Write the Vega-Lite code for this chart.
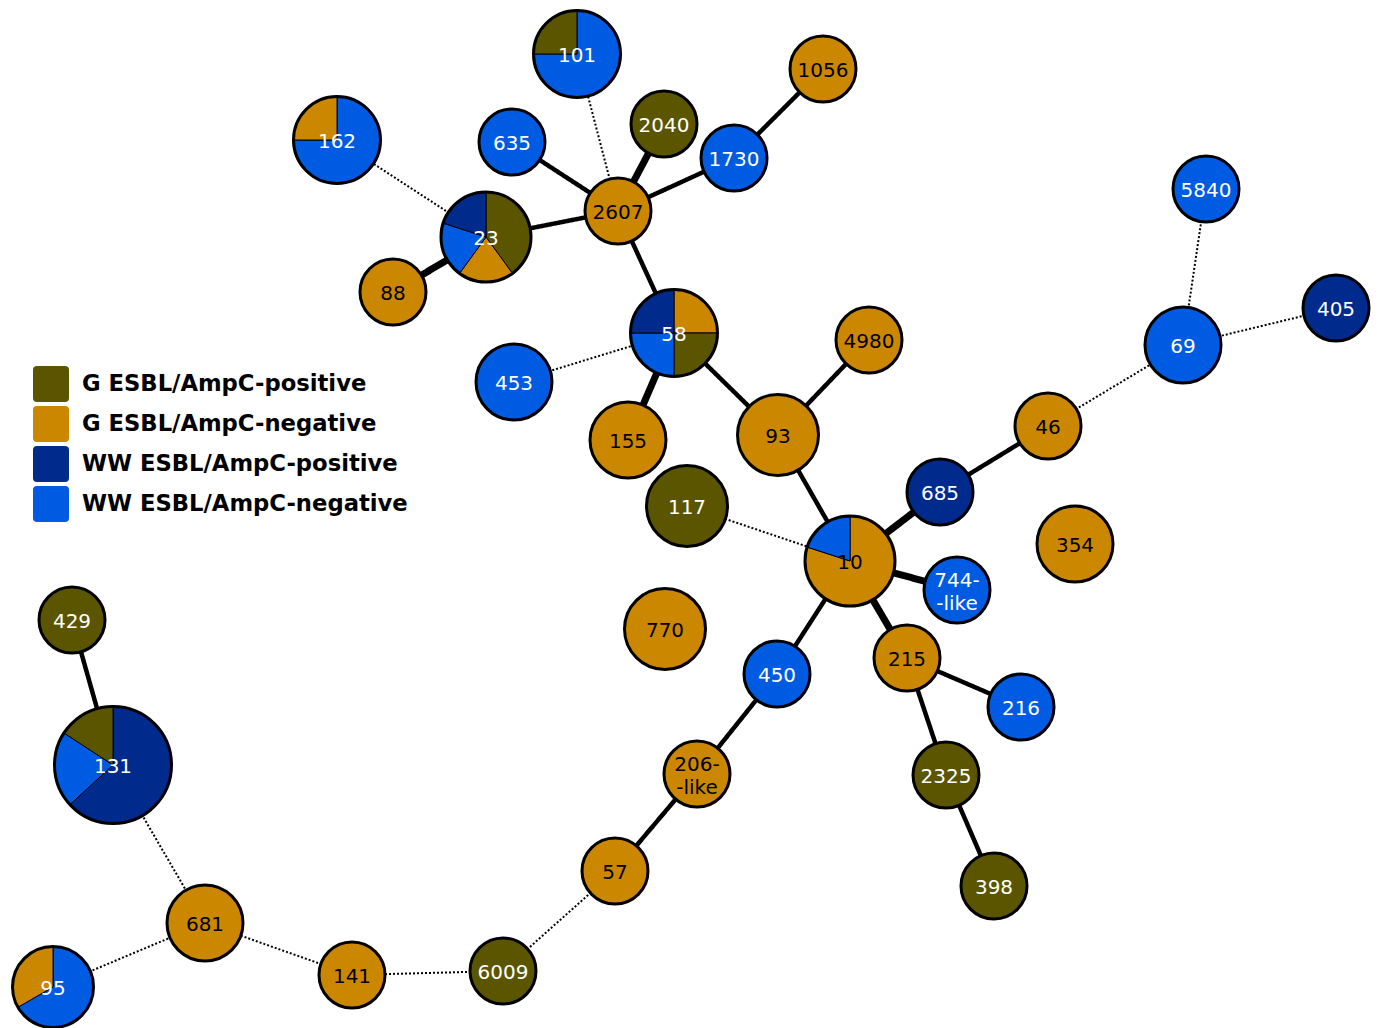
{
  "$schema": "https://vega.github.io/schema/vega-lite/v6.json",
  "width": 1378,
  "height": 1028,
  "autosize": {"type": "none"},
  "padding": 0,
  "background": "white",
  "config": {"view": {"stroke": null}},
  "datasets": {
    "nodes": [
      {"id": "101", "label": "101", "x": 577, "y": 54, "n": 4, "main": "WW ESBL/AmpC-negative"},
      {"id": "1056", "label": "1056", "x": 823, "y": 69, "n": 1, "main": "G ESBL/AmpC-negative"},
      {"id": "2040", "label": "2040", "x": 664, "y": 124, "n": 1, "main": "G ESBL/AmpC-positive"},
      {"id": "635", "label": "635", "x": 512, "y": 142, "n": 1, "main": "WW ESBL/AmpC-negative"},
      {"id": "1730", "label": "1730", "x": 734, "y": 158, "n": 1, "main": "WW ESBL/AmpC-negative"},
      {"id": "162", "label": "162", "x": 337, "y": 140, "n": 4, "main": "WW ESBL/AmpC-negative"},
      {"id": "2607", "label": "2607", "x": 618, "y": 211, "n": 1, "main": "G ESBL/AmpC-negative"},
      {"id": "5840", "label": "5840", "x": 1206, "y": 189, "n": 1, "main": "WW ESBL/AmpC-negative"},
      {"id": "23", "label": "23", "x": 486, "y": 237, "n": 5, "main": "G ESBL/AmpC-positive"},
      {"id": "88", "label": "88", "x": 393, "y": 292, "n": 1, "main": "G ESBL/AmpC-negative"},
      {"id": "58", "label": "58", "x": 674, "y": 333, "n": 4, "main": "G ESBL/AmpC-positive"},
      {"id": "4980", "label": "4980", "x": 869, "y": 340, "n": 1, "main": "G ESBL/AmpC-negative"},
      {"id": "405", "label": "405", "x": 1336, "y": 308, "n": 1, "main": "WW ESBL/AmpC-positive"},
      {"id": "69", "label": "69", "x": 1183, "y": 345, "n": 2, "main": "WW ESBL/AmpC-negative"},
      {"id": "453", "label": "453", "x": 514, "y": 382, "n": 2, "main": "WW ESBL/AmpC-negative"},
      {"id": "155", "label": "155", "x": 628, "y": 440, "n": 2, "main": "G ESBL/AmpC-negative"},
      {"id": "93", "label": "93", "x": 778, "y": 435, "n": 3, "main": "G ESBL/AmpC-negative"},
      {"id": "46", "label": "46", "x": 1048, "y": 426, "n": 1, "main": "G ESBL/AmpC-negative"},
      {"id": "117", "label": "117", "x": 687, "y": 506, "n": 3, "main": "G ESBL/AmpC-positive"},
      {"id": "685", "label": "685", "x": 940, "y": 492, "n": 1, "main": "WW ESBL/AmpC-positive"},
      {"id": "10", "label": "10", "x": 850, "y": 561, "n": 5, "main": "G ESBL/AmpC-negative"},
      {"id": "354", "label": "354", "x": 1075, "y": 544, "n": 2, "main": "G ESBL/AmpC-negative"},
      {"id": "744-like", "label": "744-\n-like", "x": 957, "y": 590, "n": 1, "main": "WW ESBL/AmpC-negative"},
      {"id": "770", "label": "770", "x": 665, "y": 629, "n": 3, "main": "G ESBL/AmpC-negative"},
      {"id": "429", "label": "429", "x": 72, "y": 620, "n": 1, "main": "G ESBL/AmpC-positive"},
      {"id": "450", "label": "450", "x": 777, "y": 674, "n": 1, "main": "WW ESBL/AmpC-negative"},
      {"id": "215", "label": "215", "x": 907, "y": 658, "n": 1, "main": "G ESBL/AmpC-negative"},
      {"id": "216", "label": "216", "x": 1021, "y": 707, "n": 1, "main": "WW ESBL/AmpC-negative"},
      {"id": "131", "label": "131", "x": 113, "y": 765, "n": 19, "main": "WW ESBL/AmpC-positive"},
      {"id": "206-like", "label": "206-\n-like", "x": 697, "y": 774, "n": 1, "main": "G ESBL/AmpC-negative"},
      {"id": "2325", "label": "2325", "x": 946, "y": 775, "n": 1, "main": "G ESBL/AmpC-positive"},
      {"id": "398", "label": "398", "x": 994, "y": 886, "n": 1, "main": "G ESBL/AmpC-positive"},
      {"id": "57", "label": "57", "x": 615, "y": 871, "n": 1, "main": "G ESBL/AmpC-negative"},
      {"id": "681", "label": "681", "x": 205, "y": 923, "n": 2, "main": "G ESBL/AmpC-negative"},
      {"id": "141", "label": "141", "x": 352, "y": 975, "n": 1, "main": "G ESBL/AmpC-negative"},
      {"id": "6009", "label": "6009", "x": 503, "y": 971, "n": 1, "main": "G ESBL/AmpC-positive"},
      {"id": "95", "label": "95", "x": 53, "y": 987, "n": 3, "main": "WW ESBL/AmpC-negative"}
    ],
    "slices": [
      {"id": "101", "cat": "WW ESBL/AmpC-negative", "c": 3},
      {"id": "101", "cat": "G ESBL/AmpC-positive", "c": 1},
      {"id": "1056", "cat": "G ESBL/AmpC-negative", "c": 1},
      {"id": "2040", "cat": "G ESBL/AmpC-positive", "c": 1},
      {"id": "635", "cat": "WW ESBL/AmpC-negative", "c": 1},
      {"id": "1730", "cat": "WW ESBL/AmpC-negative", "c": 1},
      {"id": "162", "cat": "WW ESBL/AmpC-negative", "c": 3},
      {"id": "162", "cat": "G ESBL/AmpC-negative", "c": 1},
      {"id": "2607", "cat": "G ESBL/AmpC-negative", "c": 1},
      {"id": "5840", "cat": "WW ESBL/AmpC-negative", "c": 1},
      {"id": "23", "cat": "G ESBL/AmpC-positive", "c": 2},
      {"id": "23", "cat": "G ESBL/AmpC-negative", "c": 1},
      {"id": "23", "cat": "WW ESBL/AmpC-negative", "c": 1},
      {"id": "23", "cat": "WW ESBL/AmpC-positive", "c": 1},
      {"id": "88", "cat": "G ESBL/AmpC-negative", "c": 1},
      {"id": "58", "cat": "G ESBL/AmpC-negative", "c": 1},
      {"id": "58", "cat": "G ESBL/AmpC-positive", "c": 1},
      {"id": "58", "cat": "WW ESBL/AmpC-negative", "c": 1},
      {"id": "58", "cat": "WW ESBL/AmpC-positive", "c": 1},
      {"id": "4980", "cat": "G ESBL/AmpC-negative", "c": 1},
      {"id": "405", "cat": "WW ESBL/AmpC-positive", "c": 1},
      {"id": "69", "cat": "WW ESBL/AmpC-negative", "c": 2},
      {"id": "453", "cat": "WW ESBL/AmpC-negative", "c": 2},
      {"id": "155", "cat": "G ESBL/AmpC-negative", "c": 2},
      {"id": "93", "cat": "G ESBL/AmpC-negative", "c": 3},
      {"id": "46", "cat": "G ESBL/AmpC-negative", "c": 1},
      {"id": "117", "cat": "G ESBL/AmpC-positive", "c": 3},
      {"id": "685", "cat": "WW ESBL/AmpC-positive", "c": 1},
      {"id": "10", "cat": "G ESBL/AmpC-negative", "c": 4},
      {"id": "10", "cat": "WW ESBL/AmpC-negative", "c": 1},
      {"id": "354", "cat": "G ESBL/AmpC-negative", "c": 2},
      {"id": "744-like", "cat": "WW ESBL/AmpC-negative", "c": 1},
      {"id": "770", "cat": "G ESBL/AmpC-negative", "c": 3},
      {"id": "429", "cat": "G ESBL/AmpC-positive", "c": 1},
      {"id": "450", "cat": "WW ESBL/AmpC-negative", "c": 1},
      {"id": "215", "cat": "G ESBL/AmpC-negative", "c": 1},
      {"id": "216", "cat": "WW ESBL/AmpC-negative", "c": 1},
      {"id": "131", "cat": "WW ESBL/AmpC-positive", "c": 12},
      {"id": "131", "cat": "WW ESBL/AmpC-negative", "c": 4},
      {"id": "131", "cat": "G ESBL/AmpC-positive", "c": 3},
      {"id": "206-like", "cat": "G ESBL/AmpC-negative", "c": 1},
      {"id": "2325", "cat": "G ESBL/AmpC-positive", "c": 1},
      {"id": "398", "cat": "G ESBL/AmpC-positive", "c": 1},
      {"id": "57", "cat": "G ESBL/AmpC-negative", "c": 1},
      {"id": "681", "cat": "G ESBL/AmpC-negative", "c": 2},
      {"id": "141", "cat": "G ESBL/AmpC-negative", "c": 1},
      {"id": "6009", "cat": "G ESBL/AmpC-positive", "c": 1},
      {"id": "95", "cat": "WW ESBL/AmpC-negative", "c": 2},
      {"id": "95", "cat": "G ESBL/AmpC-negative", "c": 1}
    ],
    "edges": [
      {"s": "101", "t": "2607", "kind": "dotted"},
      {"s": "2040", "t": "2607", "kind": "thick"},
      {"s": "1730", "t": "2607", "kind": "solid"},
      {"s": "1056", "t": "1730", "kind": "solid"},
      {"s": "635", "t": "2607", "kind": "solid"},
      {"s": "23", "t": "2607", "kind": "solid"},
      {"s": "162", "t": "23", "kind": "dotted"},
      {"s": "88", "t": "23", "kind": "thick"},
      {"s": "2607", "t": "58", "kind": "solid"},
      {"s": "453", "t": "58", "kind": "dotted"},
      {"s": "155", "t": "58", "kind": "thick"},
      {"s": "58", "t": "93", "kind": "solid"},
      {"s": "93", "t": "4980", "kind": "solid"},
      {"s": "93", "t": "10", "kind": "solid"},
      {"s": "117", "t": "10", "kind": "dotted"},
      {"s": "10", "t": "685", "kind": "thick"},
      {"s": "685", "t": "46", "kind": "solid"},
      {"s": "46", "t": "69", "kind": "dotted"},
      {"s": "69", "t": "5840", "kind": "dotted"},
      {"s": "69", "t": "405", "kind": "dotted"},
      {"s": "10", "t": "744-like", "kind": "thick"},
      {"s": "10", "t": "215", "kind": "thick"},
      {"s": "10", "t": "450", "kind": "solid"},
      {"s": "215", "t": "216", "kind": "solid"},
      {"s": "215", "t": "2325", "kind": "solid"},
      {"s": "2325", "t": "398", "kind": "solid"},
      {"s": "450", "t": "206-like", "kind": "solid"},
      {"s": "206-like", "t": "57", "kind": "solid"},
      {"s": "57", "t": "6009", "kind": "dotted"},
      {"s": "6009", "t": "141", "kind": "dotted"},
      {"s": "141", "t": "681", "kind": "dotted"},
      {"s": "681", "t": "95", "kind": "dotted"},
      {"s": "681", "t": "131", "kind": "dotted"},
      {"s": "131", "t": "429", "kind": "solid"}
    ]
  },
  "layer": [
    {
      "data": {"name": "edges"},
      "transform": [
        {"lookup": "s", "from": {"data": {"name": "nodes"}, "key": "id", "fields": ["x", "y"]}, "as": ["sx", "sy"]},
        {"lookup": "t", "from": {"data": {"name": "nodes"}, "key": "id", "fields": ["x", "y"]}, "as": ["tx", "ty"]}
      ],
      "mark": {"type": "rule", "color": "black"},
      "encoding": {
        "x": {"field": "sx", "type": "quantitative", "scale": {"domain": [0, 1378], "nice": false, "zero": false}, "axis": null},
        "y": {"field": "sy", "type": "quantitative", "scale": {"domain": [0, 1028], "reverse": true, "nice": false, "zero": false}, "axis": null},
        "x2": {"field": "tx"},
        "y2": {"field": "ty"},
        "strokeWidth": {"field": "kind", "type": "ordinal", "scale": {"domain": ["thick", "solid", "dotted"], "range": [7, 2, 2]}, "legend": null},
        "strokeDash": {"field": "kind", "type": "ordinal", "scale": {"domain": ["thick", "solid", "dotted"], "range": [[1, 0], [1, 0], [2, 2]]}, "legend": null}
      }
    },
    {
      "data": {"name": "slices"},
      "transform": [
        {"lookup": "id", "from": {"data": {"name": "nodes"}, "key": "id", "fields": ["x", "y", "n"]}},
        {"stack": "c", "groupby": ["id"], "offset": "normalize", "as": ["t0", "t1"]}
      ],
      "mark": {"type": "arc", "stroke": "black"},
      "encoding": {
        "x": {"field": "x", "type": "quantitative", "axis": null},
        "y": {"field": "y", "type": "quantitative", "axis": null},
        "theta": {"field": "t0", "type": "quantitative", "stack": null, "scale": {"domain": [0, 1], "range": [0, 6.2832]}},
        "theta2": {"field": "t1"},
        "radius": {"field": "n", "type": "quantitative", "stack": null, "scale": {"type": "linear", "domain": [1, 2, 3, 4, 5, 19], "range": [33, 38, 40.5, 43.5, 45, 58.5]}},
        "radius2": {"value": 0},
        "strokeWidth": {"condition": {"test": "datum.t1 - datum.t0 < 0.999", "value": 1}, "value": 0},
        "fill": {
          "field": "cat",
          "type": "nominal",
          "scale": {
            "domain": ["G ESBL/AmpC-positive", "G ESBL/AmpC-negative", "WW ESBL/AmpC-positive", "WW ESBL/AmpC-negative"],
            "range": ["#5B5500", "#CB8700", "#002B8C", "#005BE3"]
          },
          "legend": {
            "title": null,
            "orient": "none",
            "legendX": 33,
            "legendY": 366,
            "padding": 0,
            "symbolType": "M-0.78,-1H0.78Q1,-1,1,-0.78V0.78Q1,1,0.78,1H-0.78Q-1,1,-1,0.78V-0.78Q-1,-1,-0.78,-1Z",
            "symbolSize": 1296,
            "symbolStrokeWidth": 0,
            "symbolOpacity": 1,
            "labelFont": "DejaVu Sans",
            "labelFontSize": 22.7,
            "labelFontWeight": "bold",
            "labelColor": "black",
            "labelOffset": 13,
            "labelLimit": 0,
            "rowPadding": 4
          }
        }
      }
    },
    {
      "data": {"name": "nodes"},
      "mark": {"type": "arc", "filled": false, "stroke": "black", "strokeWidth": 3, "theta": 0, "theta2": 6.2832},
      "encoding": {
        "x": {"field": "x", "type": "quantitative", "axis": null},
        "y": {"field": "y", "type": "quantitative", "axis": null},
        "radius": {"field": "n", "type": "quantitative", "stack": null},
        "radius2": {"value": 0}
      }
    },
    {
      "data": {"name": "nodes"},
      "transform": [{"filter": "indexof(datum.label, '\\n') < 0"}],
      "mark": {"type": "text", "font": "DejaVu Sans", "fontSize": 20, "align": "center", "baseline": "middle", "dy": 2},
      "encoding": {
        "x": {"field": "x", "type": "quantitative", "axis": null},
        "y": {"field": "y", "type": "quantitative", "axis": null},
        "text": {"field": "label"},
        "fill": {"condition": {"test": "datum.main === 'G ESBL/AmpC-negative'", "value": "black"}, "value": "white"}
      }
    },
    {
      "data": {"name": "nodes"},
      "transform": [{"filter": "indexof(datum.label, '\\n') >= 0"}],
      "mark": {"type": "text", "font": "DejaVu Sans", "fontSize": 20, "align": "center", "baseline": "middle", "lineBreak": "\n", "lineHeight": 23, "dy": -9},
      "encoding": {
        "x": {"field": "x", "type": "quantitative", "axis": null},
        "y": {"field": "y", "type": "quantitative", "axis": null},
        "text": {"field": "label"},
        "fill": {"condition": {"test": "datum.main === 'G ESBL/AmpC-negative'", "value": "black"}, "value": "white"}
      }
    }
  ]
}
